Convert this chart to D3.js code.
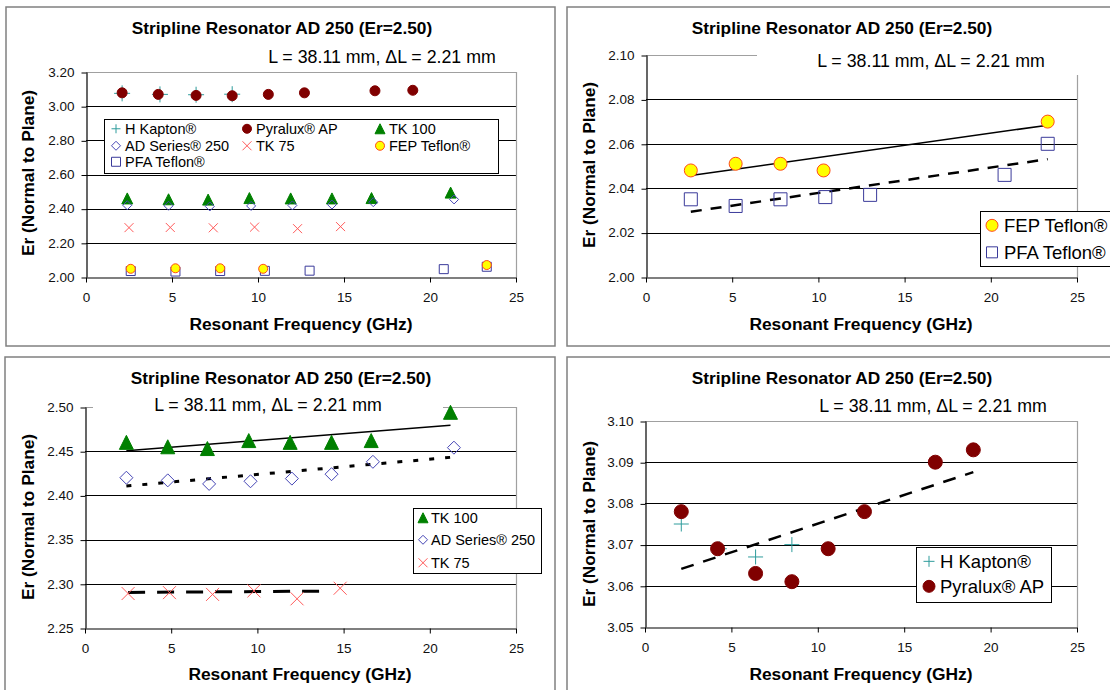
<!DOCTYPE html>
<html>
<head>
<meta charset="utf-8">
<script src="https://cdnjs.cloudflare.com/ajax/libs/d3/7.8.5/d3.min.js"></script>
<style>
body { margin: 0; background: #fff; }
svg text { font-family: "Liberation Sans", Arial, sans-serif; }
</style>
</head>
<body>
<svg id="chart" width="1110" height="690"></svg>
<script>
// measured values (GHz, Er)
var kaptonFreq = [2.1, 4.3, 6.4, 8.5];
var kaptonEr = [3.075, 3.069, 3.067, 3.070];
var pyraluxFreq = [2.1, 4.2, 6.4, 8.5, 10.6, 12.7, 16.8, 19.0];
var pyraluxEr = [3.078, 3.069, 3.063, 3.061, 3.069, 3.078, 3.090, 3.093];
var tk100Freq = [2.4, 4.8, 7.1, 9.5, 11.9, 14.3, 16.6, 21.2];
var tk100Er = [2.460, 2.455, 2.453, 2.462, 2.460, 2.460, 2.462, 2.494];
var adFreq = [2.4, 4.8, 7.2, 9.6, 12.0, 14.3, 16.7, 21.4];
var adEr = [2.420, 2.417, 2.413, 2.416, 2.419, 2.424, 2.438, 2.454];
var tk75Freq = [2.5, 4.9, 7.4, 9.8, 12.3, 14.8];
var tk75Er = [2.289, 2.290, 2.288, 2.292, 2.283, 2.295];
var fepFreq = [2.6, 5.2, 7.8, 10.3, 23.3];
var fepEr = [2.048, 2.051, 2.051, 2.048, 2.070];
var pfaFreq = [2.6, 5.2, 7.8, 10.4, 13.0, 20.8, 23.3];
var pfaEr = [2.035, 2.032, 2.035, 2.036, 2.037, 2.046, 2.060];

// trend line end points
var fepTrend = [[2.6, 2.0457], [23.3, 2.0684]];
var pfaTrend = [[2.6, 2.0294], [23.3, 2.0531]];
var tk100Trend = [[2.4, 2.4506], [21.2, 2.4793]];
var adTrend = [[2.4, 2.4106], [21.4, 2.4434]];
var tk75Trend = [[2.5, 2.2903], [14.1, 2.2917]];
var pyraluxTrend = [[2.1, 3.0641], [19.0, 3.0876]];

// tick labels
var freqTicks = [0, 5, 10, 15, 20, 25];
var erTicksAll = [2.00, 2.20, 2.40, 2.60, 2.80, 3.00, 3.20];
var erTicksTeflon = [2.00, 2.02, 2.04, 2.06, 2.08, 2.10];
var erTicksTK = [2.25, 2.30, 2.35, 2.40, 2.45, 2.50];
var erTicksPyralux = [3.05, 3.06, 3.07, 3.08, 3.09, 3.10];

var titleText = "Stripline Resonator AD 250 (Er=2.50)";
var subText = "L = 38.11 mm, \u0394L = 2.21 mm";
var xTitle = "Resonant Frequency (GHz)";
var yTitle = "Er (Normal to Plane)";

var svg = d3.select("#chart");

function pts(xs, ys) {
	return xs.map(function(d, i) { return [d, ys[i]]; });
}

var series = {
	kapton: { name: "H Kapton\u00ae", data: pts(kaptonFreq, kaptonEr), type: "plus", fill: "none", stroke: "#2f9c9c" },
	pyralux: { name: "Pyralux\u00ae AP", data: pts(pyraluxFreq, pyraluxEr), type: "circle", fill: "#800000", stroke: "#800000" },
	tk100: { name: "TK 100", data: pts(tk100Freq, tk100Er), type: "triangle", fill: "#008000", stroke: "#008000" },
	ad: { name: "AD Series\u00ae 250", data: pts(adFreq, adEr), type: "diamond", fill: "none", stroke: "#4545b5" },
	tk75: { name: "TK 75", data: pts(tk75Freq, tk75Er), type: "x", fill: "none", stroke: "#ff5a5a" },
	fep: { name: "FEP Teflon\u00ae", data: pts(fepFreq, fepEr), type: "circle", fill: "#ffff00", stroke: "#ff4a1a" },
	pfa: { name: "PFA Teflon\u00ae", data: pts(pfaFreq, pfaEr), type: "square", fill: "none", stroke: "#3a3a9a" }
};

function markerPath(type, s) {
	var h = s / 2;
	if (type == "plus") return "M" + (-h) + ",0H" + h + "M0," + (-h) + "V" + h;
	if (type == "x") return "M" + (-h) + "," + (-h) + "L" + h + "," + h + "M" + (-h) + "," + h + "L" + h + "," + (-h);
	if (type == "triangle") return "M0," + (-h) + "L" + h + "," + h + "L" + (-h) + "," + h + "Z";
	if (type == "diamond") return "M0," + (-h) + "L" + h + ",0L0," + h + "L" + (-h) + ",0Z";
	if (type == "square") return "M" + (-h) + "," + (-h) + "H" + h + "V" + h + "H" + (-h) + "Z";
	return "M" + (-h) + ",0A" + h + "," + h + " 0 1,0 " + h + ",0A" + h + "," + h + " 0 1,0 " + (-h) + ",0Z";
}

function drawMarker(g, s, size, cx, cy) {
	g.append("path")
		.attr("d", markerPath(s.type, size))
		.attr("transform", "translate(" + cx + "," + cy + ")")
		.attr("fill", s.fill)
		.attr("stroke", s.stroke)
		.attr("stroke-width", 1);
}

function drawPanel(p) {
	var g = svg.append("g");

	// chart area frame
	g.append("rect")
		.attr("x", p.frame[0]).attr("y", p.frame[1])
		.attr("width", p.frame[2]).attr("height", p.frame[3])
		.attr("fill", "#fff").attr("stroke", "#808080").attr("stroke-width", 1.5);

	var x = d3.scaleLinear().domain([0, 25]).range([p.plot.l, p.plot.r]);
	var y = d3.scaleLinear().domain([p.ticks[0], p.ticks[p.ticks.length - 1]]).range([p.plot.b, p.plot.t]);

	// gridlines (inner black), plot border top/right gray
	g.selectAll(".grid")
		.data(p.ticks.slice(1, -1))
		.enter().append("line")
		.attr("x1", p.plot.l).attr("x2", p.plot.r)
		.attr("y1", function(d) { return Math.round(y(d)) + 0.5; })
		.attr("y2", function(d) { return Math.round(y(d)) + 0.5; })
		.attr("stroke", "#000").attr("stroke-width", 1);
	g.append("path")
		.attr("d", "M" + p.plot.l + "," + (Math.round(p.plot.t) + 0.5) + "H" + (p.plot.r + 0.5) + "V" + p.plot.b)
		.attr("fill", "none").attr("stroke", "#a0a0a0").attr("stroke-width", 1.2);

	// subtitle box (covers part of plot border in some panels)
	if (p.subBox) {
		g.append("rect")
			.attr("x", p.subBox[0]).attr("y", p.subBox[1])
			.attr("width", p.subBox[2]).attr("height", p.subBox[3])
			.attr("fill", "#fff");
	}

	var yAxis = d3.axisLeft(y).tickValues(p.ticks).tickFormat(d3.format(".2f"))
		.tickSize(5).tickSizeOuter(0).tickPadding(7);
	var xAxis = d3.axisBottom(x).tickValues(freqTicks).tickFormat(d3.format("d"))
		.tickSize(5).tickSizeOuter(0).tickPadding(10);

	var ya = g.append("g")
		.attr("transform", "translate(" + (Math.round(p.plot.l) + 0.5) + ",0)")
		.call(yAxis);
	var xa = g.append("g")
		.attr("transform", "translate(0," + (Math.round(p.plot.b) + 0.5) + ")")
		.call(xAxis);
	[ya, xa].forEach(function(a) {
		a.select(".domain").attr("stroke", "#000").attr("stroke-width", 1.2);
		a.selectAll(".tick line").attr("stroke", "#000");
		a.selectAll(".tick text").attr("fill", "#111").style("font-size", "13.5px")
			.style("font-family", "'Liberation Sans', Arial, sans-serif");
	});
	ya.selectAll(".tick line").attr("transform", "translate(0,0.5)");

	// titles
	g.append("text").attr("x", p.title[0]).attr("y", p.title[1])
		.attr("text-anchor", "middle").style("font-size", "17.3px").style("font-weight", "bold")
		.text(titleText);
	g.append("text").attr("x", p.sub[0]).attr("y", p.sub[1])
		.attr("text-anchor", "middle").style("font-size", "17.8px")
		.text(subText);
	g.append("text").attr("x", p.xt[0]).attr("y", p.xt[1])
		.attr("text-anchor", "middle").style("font-size", "17.4px").style("font-weight", "bold")
		.text(xTitle);
	g.append("text")
		.attr("transform", "translate(" + p.yt[0] + "," + p.yt[1] + ") rotate(-90)")
		.attr("text-anchor", "middle").style("font-size", "17.3px").style("font-weight", "bold")
		.text(yTitle);

	// trend lines
	var line = d3.line().x(function(d) { return x(d[0]); }).y(function(d) { return y(d[1]); });
	(p.trends || []).forEach(function(t) {
		g.append("path")
			.attr("d", line(t.data))
			.attr("fill", "none").attr("stroke", "#000")
			.attr("stroke-width", t.width)
			.attr("stroke-dasharray", t.dash || null);
	});

	// markers
	p.series.forEach(function(key) {
		var s = series[key];
		var mg = g.append("g");
		s.data.forEach(function(d) {
			drawMarker(mg, s, p.size[key], x(d[0]), y(d[1]));
		});
	});

	// legend
	var lg = p.legend;
	g.append("rect")
		.attr("x", lg.box[0] + 0.5).attr("y", lg.box[1] + 0.5)
		.attr("width", lg.box[2]).attr("height", lg.box[3])
		.attr("fill", "#fff").attr("stroke", "#000").attr("stroke-width", 1);
	lg.items.forEach(function(it) {
		var s = series[it.key];
		drawMarker(g, s, it.size, it.x, it.y - lg.font * 0.36);
		g.append("text")
			.attr("x", it.x + lg.gap).attr("y", it.y)
			.style("font-size", lg.font + "px")
			.text(s.name);
	});
}

drawPanel({
	frame: [6, 7, 549, 339],
	plot: { l: 86, r: 516, t: 72, b: 277 },
	ticks: erTicksAll,
	title: [282, 34], sub: [382, 63], xt: [301, 330], yt: [34, 173],
	series: ["kapton", "pyralux", "tk100", "ad", "tk75", "pfa", "fep"],
	size: { kapton: 16, pyralux: 10, tk100: 11, ad: 9, tk75: 9, fep: 9, pfa: 9 },
	legend: {
		box: [104, 119, 394, 54], font: 14.5, gap: 9,
		items: [
			{ key: "kapton", x: 116, y: 134, size: 9 },
			{ key: "pyralux", x: 247, y: 134, size: 9 },
			{ key: "tk100", x: 380, y: 134, size: 10 },
			{ key: "ad", x: 116, y: 151, size: 9 },
			{ key: "tk75", x: 247, y: 151, size: 9 },
			{ key: "fep", x: 380, y: 151, size: 9 },
			{ key: "pfa", x: 116, y: 167, size: 9 }
		]
	}
});

drawPanel({
	frame: [567, 7, 560, 339],
	plot: { l: 646, r: 1077, t: 55, b: 277 },
	ticks: erTicksTeflon,
	title: [842, 34], sub: [931, 67], xt: [861, 330], yt: [595, 165],
	subBox: [757, 40, 350, 35],
	series: ["pfa", "fep"],
	size: { fep: 13, pfa: 13 },
	trends: [
		{ data: fepTrend, width: 1.5 },
		{ data: pfaTrend, width: 2.5, dash: "11,9" }
	],
	legend: {
		box: [980, 211, 140, 55], font: 18.5, gap: 12,
		items: [
			{ key: "fep", x: 992, y: 232, size: 12 },
			{ key: "pfa", x: 992, y: 259, size: 11 }
		]
	}
});

drawPanel({
	frame: [5, 357, 550, 345],
	plot: { l: 85, r: 516, t: 407, b: 628 },
	ticks: erTicksTK,
	title: [281, 384], sub: [268, 411], xt: [300, 680], yt: [34, 517],
	subBox: [93, 390, 350, 26],
	series: ["tk100", "ad", "tk75"],
	size: { tk100: 14, ad: 13, tk75: 13 },
	trends: [
		{ data: tk100Trend, width: 1.5 },
		{ data: adTrend, width: 3, dash: "5,11" },
		{ data: tk75Trend, width: 3, dash: "17,12" }
	],
	legend: {
		box: [413, 508, 128, 65], font: 14.5, gap: 8,
		items: [
			{ key: "tk100", x: 423, y: 523, size: 10 },
			{ key: "ad", x: 423, y: 545, size: 9 },
			{ key: "tk75", x: 423, y: 568, size: 9 }
		]
	}
});

drawPanel({
	frame: [567, 357, 560, 345],
	plot: { l: 645, r: 1077, t: 421, b: 627 },
	ticks: erTicksPyralux,
	title: [842, 384], sub: [933, 412], xt: [861, 680], yt: [595, 524],
	series: ["kapton", "pyralux"],
	size: { kapton: 15, pyralux: 14 },
	trends: [
		{ data: pyraluxTrend, width: 2.5, dash: "13,10" }
	],
	legend: {
		box: [916, 547, 135, 55], font: 18.5, gap: 11,
		items: [
			{ key: "kapton", x: 929, y: 568, size: 11 },
			{ key: "pyralux", x: 929, y: 593, size: 12 }
		]
	}
});
</script>
</body>
</html>
